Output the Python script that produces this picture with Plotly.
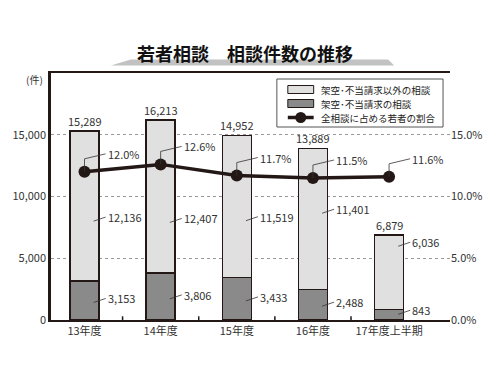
import plotly.graph_objects as go

categories = ["13年度", "14年度", "15年度", "16年度", "17年度上半期"]
other_consult = [12136, 12407, 11519, 11401, 6036]      # 架空・不当請求以外の相談
fraud_consult = [3153, 3806, 3433, 2488, 843]           # 架空・不当請求の相談
totals = [15289, 16213, 14952, 13889, 6879]
youth_share = [12.0, 12.6, 11.7, 11.5, 11.6]            # 全相談に占める若者の割合 (%)
series_names = ["架空･不当請求以外の相談", "架空･不当請求の相談", "全相談に占める若者の割合"]

FONT = "Noto Sans CJK JP"
DARK = "#231815"
LIGHT_FILL = "#e0e0e0"
DARK_FILL = "#8a8a8a"
xs = list(range(len(categories)))

fig = go.Figure()
fig.add_trace(go.Bar(
    x=xs, y=fraud_consult, name=series_names[1],
    marker=dict(color=DARK_FILL, line=dict(color=DARK, width=1.5)), width=0.38))
fig.add_trace(go.Bar(
    x=xs, y=other_consult, name=series_names[0],
    marker=dict(color=LIGHT_FILL, line=dict(color=DARK, width=1.5)), width=0.38))
fig.add_trace(go.Scatter(
    x=xs, y=youth_share, name=series_names[2], yaxis="y2",
    mode="lines+markers",
    line=dict(color=DARK, width=3.5),
    marker=dict(color=DARK, size=12)))

ann = []
shapes = []
lab_font = dict(family=FONT, size=11, color="#333")
leader = dict(showarrow=True, arrowhead=0, arrowwidth=0.8, arrowcolor="#333")
# totals above bars
for i, t in enumerate(totals):
    ann.append(dict(x=i, y=t, text=f"{t:,}", showarrow=False, yanchor="bottom",
                    yshift=0, font=lab_font))
# light segment labels
light_frac = [0.4, 0.33, 0.4, 0.54, 0.85]
for i, (b, v) in enumerate(zip(fraud_consult, other_consult)):
    ann.append(dict(x=i + 0.12, y=b + v * light_frac[i], text=f"{v:,}",
                    ax=12, ay=-4, xanchor="left", font=lab_font, **leader))
# dark segment labels
for i, v in enumerate(fraud_consult):
    ann.append(dict(x=i + 0.12, y=v * 0.45 if v > 1500 else v * 0.55, text=f"{v:,}",
                    ax=12, ay=-4, xanchor="left", font=lab_font, **leader))
# percent labels with elbow leaders
for i, p in enumerate(youth_share):
    top = p + 1.05
    shapes.append(dict(type="line", xref="x", yref="y2", x0=i, x1=i, y0=p, y1=top,
                       line=dict(color="#333", width=0.8)))
    ann.append(dict(x=i, y=top, yref="y2", text=f"{p:.1f}%",
                    ax=21, ay=-5, xanchor="left", font=lab_font, **leader))

# title, underline and unit
ann.append(dict(xref="paper", yref="paper", x=0.485, y=1.0, yshift=20, showarrow=False,
                text="<b>若者相談　相談件数の推移</b>", yanchor="middle",
                font=dict(family=FONT, size=18, color="#111")))
shapes.append(dict(type="path", xref="paper", yref="paper",
                   path="M 0.15,1.03 L 0.86,1.03 L 0.845,1.055 L 0.2,1.055 Z",
                   line=dict(width=0), fillcolor="#c2c2c2", layer="below"))
ann.append(dict(xref="paper", yref="paper", x=0, y=1, xshift=-6, yshift=-6,
                showarrow=False, text="(件)", xanchor="right", yanchor="middle",
                font=dict(family=FONT, size=10, color="#333")))

# legend drawn as a framed box
shapes.append(dict(type="rect", xref="paper", yref="paper",
                   x0=(276 - 49) / 401, x1=(443 - 49) / 401,
                   y0=(320 - 127) / 247, y1=(320 - 79) / 247,
                   line=dict(color="#555", width=1), fillcolor="white"))
row_y = [(320 - 89.5) / 247, (320 - 103.5) / 247, (320 - 117.5) / 247]
sx0, sx1 = (287 - 49) / 401, (313 - 49) / 401
for k, fill in enumerate([LIGHT_FILL, DARK_FILL]):
    shapes.append(dict(type="rect", xref="paper", yref="paper", x0=sx0, x1=sx1,
                       y0=row_y[k] - 4 / 247, y1=row_y[k] + 4 / 247,
                       line=dict(color=DARK, width=1), fillcolor=fill))
shapes.append(dict(type="line", xref="paper", yref="paper", x0=sx0, x1=sx1,
                   y0=row_y[2], y1=row_y[2], line=dict(color=DARK, width=3.5)))
shapes.append(dict(type="circle", xref="paper", yref="paper",
                   x0=(sx0 + sx1) / 2 - 5.5 / 401, x1=(sx0 + sx1) / 2 + 5.5 / 401,
                   y0=row_y[2] - 5.5 / 247, y1=row_y[2] + 5.5 / 247,
                   line=dict(color=DARK, width=0), fillcolor=DARK))
for k, name in enumerate(series_names):
    ann.append(dict(xref="paper", yref="paper", x=(318 - 49) / 401, y=row_y[k],
                    text=name, showarrow=False, xanchor="left", yanchor="middle",
                    font=dict(family=FONT, size=9.5, color="#222")))

# category boundary ticks on the bottom axis
for i in range(len(categories) - 1):
    shapes.append(dict(type="line", xref="x", yref="paper", x0=i + 0.5, x1=i + 0.5,
                       y0=0, y1=0.015, line=dict(color=DARK, width=1.5)))

fig.update_layout(
    width=500, height=375,
    margin=dict(l=49, r=50, t=73, b=55),
    paper_bgcolor="white", plot_bgcolor="white",
    barmode="stack",
    font=dict(family=FONT, size=11, color="#333"),
    showlegend=False,
    xaxis=dict(range=[-0.44, 4.8], tickvals=xs, ticktext=categories,
               showgrid=False, zeroline=False, showline=True, linecolor=DARK,
               linewidth=2, mirror=True, ticks="", tickfont=dict(size=11, color="#333")),
    yaxis=dict(range=[0, 20000], tickvals=[0, 5000, 10000, 15000],
               ticktext=["0", "5,000", "10,000", "15,000"],
               showgrid=True, gridcolor="#999", griddash="dot", gridwidth=1,
               zeroline=False, showline=True, linecolor=DARK, linewidth=2.5,
               ticks="", tickfont=dict(size=11, color="#333")),
    yaxis2=dict(range=[0, 20], overlaying="y", side="right",
                tickvals=[0, 5, 10, 15],
                ticktext=["0.0%", "5.0%", "10.0%", "15.0%"],
                showgrid=False, zeroline=False, showline=False, ticks="",
                tickfont=dict(size=11, color="#333")),
    annotations=ann,
    shapes=shapes,
)

fig.write_html("out.html", config={"displayModeBar": False},
               post_script="document.body.style.margin='0';")
